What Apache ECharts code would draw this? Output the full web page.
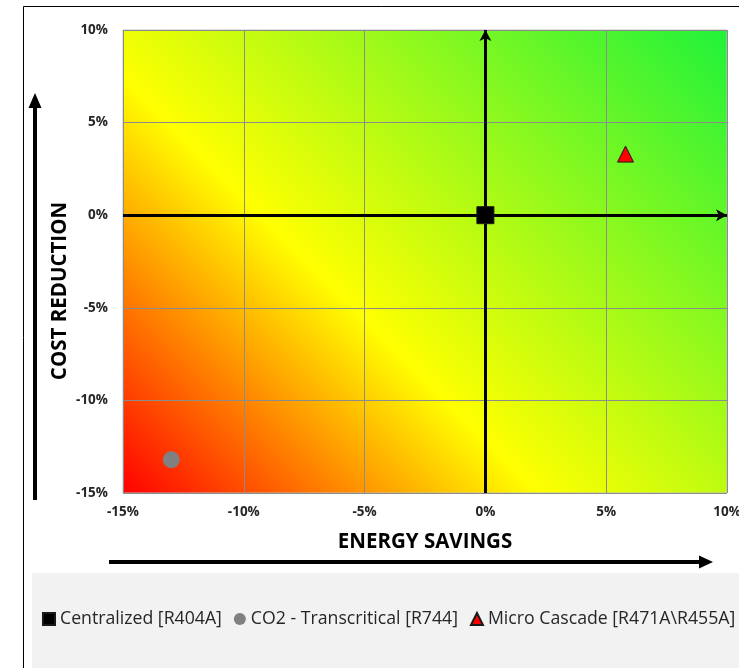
<!DOCTYPE html>
<html>
<head>
<meta charset="utf-8">
<script src="https://cdn.jsdelivr.net/npm/echarts@6/dist/echarts.min.js"></script>
<style>
  html, body { margin: 0; padding: 0; background: #fff; overflow: hidden; }
  #chart { width: 739px; height: 668px; }
</style>
</head>
<body>
<div id="chart"></div>
<script>
// Positioning matrix: energy savings vs. cost reduction per system type
const seriesNames = ['Centralized [R404A]', 'CO2 - Transcritical [R744]', 'Micro Cascade [R471A\\R455A]'];
const energySavings = [0, -13, 5.8];      // % (x)
const costReduction = [0, -13.2, 3.3];    // % (y)
const seriesSymbols = ['rect', 'circle', 'triangle'];
const seriesColors = ['#000000', '#808080', '#ff0000'];
const axisMin = -15;
const axisMax = 10;
const axisStep = 5;

const W = 739, H = 668;
const gridBox = { left: 123, top: 30, right: 12, bottom: 175 };
const gw = W - gridBox.left - gridBox.right;
const gh = H - gridBox.top - gridBox.bottom;

// 45° (screen space) red -> yellow -> green fill, corner to corner
const half = (gw + gh) / 2;
const bgGradient = new echarts.graphic.LinearGradient(
  0, 1, half / gw, 1 - half / gh,
  [
    { offset: 0, color: '#ff0000' },
    { offset: 0.39, color: '#ffff00' },
    { offset: 1, color: '#1ff23a' }
  ]
);

const chart = echarts.init(document.getElementById('chart'), null, { renderer: 'canvas' });

const labelFont = { fontFamily: 'Open Sans', fontWeight: 'bold', fontSize: 13.5, color: '#262626' };

const pointSeries = seriesNames.map((name, i) => ({
  name: name,
  type: 'scatter',
  z: 5,
  symbol: seriesSymbols[i],
  symbolSize: i === 2 ? 16 : 17,
  itemStyle: {
    color: seriesColors[i],
    borderColor: i === 1 ? 'transparent' : '#1a1a1a',
    borderWidth: i === 1 ? 0 : 1,
    opacity: 1
  },
  emphasis: { disabled: true },
  data: [[energySavings[i], costReduction[i]]]
}));

// Cross through the origin, with arrowheads
const crossSeries = {
  name: 'origin-cross',
  type: 'scatter',
  z: 3,
  data: [],
  silent: true,
  markLine: {
    silent: true,
    animation: false,
    symbol: ['none', 'arrow'],
    symbolSize: [9, 11],
    label: { show: false },
    lineStyle: { color: '#000', width: 3, type: 'solid' },
    emphasis: { disabled: true },
    data: [
      [{ coord: [axisMin, 0] }, { coord: [axisMax, 0] }],
      [{ coord: [0, axisMin] }, { coord: [0, axisMax] }]
    ]
  }
};

chart.setOption({
  animation: false,
  backgroundColor: '#ffffff',
  grid: {
    left: gridBox.left, top: gridBox.top, right: gridBox.right, bottom: gridBox.bottom,
    show: true,
    backgroundColor: bgGradient,
    borderColor: '#bfbfbf',
    borderWidth: 1,
    containLabel: false,
    outerBoundsMode: 'none'
  },
  xAxis: {
    type: 'value',
    min: axisMin, max: axisMax, interval: axisStep,
    axisLine: { show: false },
    axisTick: { show: false },
    splitLine: { show: true, lineStyle: { color: '#8c8c8c', width: 1 } },
    axisLabel: Object.assign({ margin: 12, formatter: v => v + '%' }, labelFont)
  },
  yAxis: {
    type: 'value',
    min: axisMin, max: axisMax, interval: axisStep,
    axisLine: { show: false },
    axisTick: { show: false },
    splitLine: { show: true, lineStyle: { color: '#8c8c8c', width: 1 } },
    axisLabel: Object.assign({ margin: 15, formatter: v => v + '%' }, labelFont)
  },
  legend: {
    data: seriesNames.map((n, i) => ({ name: n, icon: seriesSymbols[i] })),
    left: 42,
    top: 610,
    width: 720,
    padding: 0,
    itemWidth: 12,
    itemHeight: 12,
    itemGap: 12,
    selectedMode: false,
    textStyle: { fontFamily: 'Open Sans', fontSize: 17.7, color: '#262626' }
  },
  graphic: [
    // outer frame
    { type: 'line', silent: true, z: -1, shape: { x1: 23.5, y1: 6.5, x2: 739, y2: 6.5 }, style: { stroke: '#000', lineWidth: 1 } },
    { type: 'line', silent: true, z: -1, shape: { x1: 23.5, y1: 6.5, x2: 23.5, y2: 668 }, style: { stroke: '#000', lineWidth: 1 } },
    // legend panel
    { type: 'rect', silent: true, z: -1, shape: { x: 32, y: 573, width: 707, height: 95 }, style: { fill: '#f2f2f2' } },
    // vertical direction arrow
    { type: 'line', silent: true, shape: { x1: 35, y1: 500, x2: 35, y2: 104 }, style: { stroke: '#000', lineWidth: 4 } },
    { type: 'polygon', silent: true, shape: { points: [[35, 93], [28.5, 108], [41.5, 108]] }, style: { fill: '#000' } },
    // horizontal direction arrow
    { type: 'line', silent: true, shape: { x1: 109, y1: 562, x2: 702, y2: 562 }, style: { stroke: '#000', lineWidth: 4 } },
    { type: 'polygon', silent: true, shape: { points: [[713, 562], [699, 555.5], [699, 568.5]] }, style: { fill: '#000' } },
    // axis titles
    {
      type: 'text', silent: true, x: 425, y: 542,
      style: { text: 'ENERGY SAVINGS', fontFamily: 'Open Sans', fontWeight: 'bold', fontSize: 20.5, fill: '#000', align: 'center', verticalAlign: 'middle' }
    },
    {
      type: 'text', silent: true, x: 60, y: 291, rotation: Math.PI / 2,
      style: { text: 'COST REDUCTION', fontFamily: 'Open Sans', fontWeight: 'bold', fontSize: 20.5, fill: '#000', align: 'center', verticalAlign: 'middle' }
    }
  ],
  series: [crossSeries].concat(pointSeries)
});
</script>
</body>
</html>
